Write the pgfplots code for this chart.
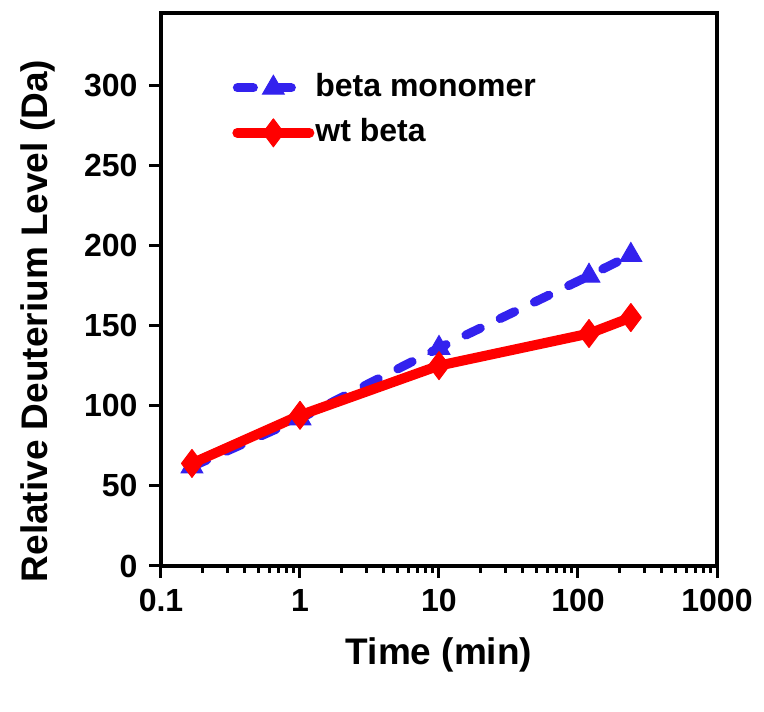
\documentclass[border=0pt]{standalone}
\usepackage{pgfplots}
\pgfplotsset{compat=1.18}
\usepackage{fontspec}
\setmainfont{Liberation Sans}
\definecolor{myblue}{RGB}{51,34,238}
\definecolor{myred}{RGB}{255,0,0}
\begin{document}
\begin{tikzpicture}
\begin{pgfinterruptboundingbox}
\begin{axis}[
  name=ax,
  scale only axis,
  width=556pt, height=553pt,
  xmode=log,
  xmin=0.1, xmax=1000,
  ymin=0, ymax=345,
  xtick={0.1,1,10,100,1000},
  xticklabels={0.1,1,10,100,1000},
  ytick={0,50,100,150,200,250,300},
  minor ytick={},
  tick align=outside,
  xtick pos=bottom, ytick pos=left,
  major tick length=12pt,
  minor tick length=7pt,
  axis line style={line width=3.5pt},
  every tick/.style={black, line width=3pt},
  minor tick style={line width=3pt},
  /pgf/number format/assume math mode=true,
  tick label style={font=\bfseries\fontsize{32}{32}\selectfont},
  yticklabel style={xshift=-8pt},
  xticklabel style={yshift=-8pt},
  xlabel={Time (min)},
  ylabel={Relative Deuterium Level (Da)},
  label style={font=\bfseries\fontsize{37}{37}\selectfont},
  xlabel style={at={(axis description cs:0.5,-0.160)}, anchor=center},
  ylabel style={at={(axis description cs:-0.221,0.443)}, anchor=center},
  legend cell align=left,
  legend style={at={(axis description cs:0.128,0.824)}, anchor=west, draw=none, fill=none,
    inner sep=0pt, row sep=16pt, column sep=1pt,
    font=\bfseries\fontsize{32}{32}\selectfont,
    nodes={inner sep=0pt, text height=23pt, text depth=6pt}},
  legend image code/.code={\draw[#1, mark repeat=2, mark phase=2] plot coordinates {(0pt,0pt) (36pt,0pt) (72pt,0pt)};},
]
\addplot[color=myblue, line width=9pt, line cap=round, dash pattern=on 16pt off 22pt,
  mark=triangle*, mark size=12.5pt, mark options={solid, line width=1pt, fill=myblue}]
  coordinates {(0.167,62) (1,92) (10,136) (120,181) (240,194)};
\addlegendentry{beta monomer}
\addplot[color=myred, line width=10pt, line cap=round, line join=round,
  mark=diamond*, mark size=14pt, mark options={solid, line width=1pt, fill=myred}]
  coordinates {(0.167,64) (1,94) (10,125) (120,145) (240,155)};
\addlegendentry{wt beta}
\end{axis}
\end{pgfinterruptboundingbox}
\useasboundingbox ([xshift=-161pt, yshift=-146pt]ax.south west) rectangle ([xshift=47pt, yshift=13pt]ax.north east);
\end{tikzpicture}
\end{document}
